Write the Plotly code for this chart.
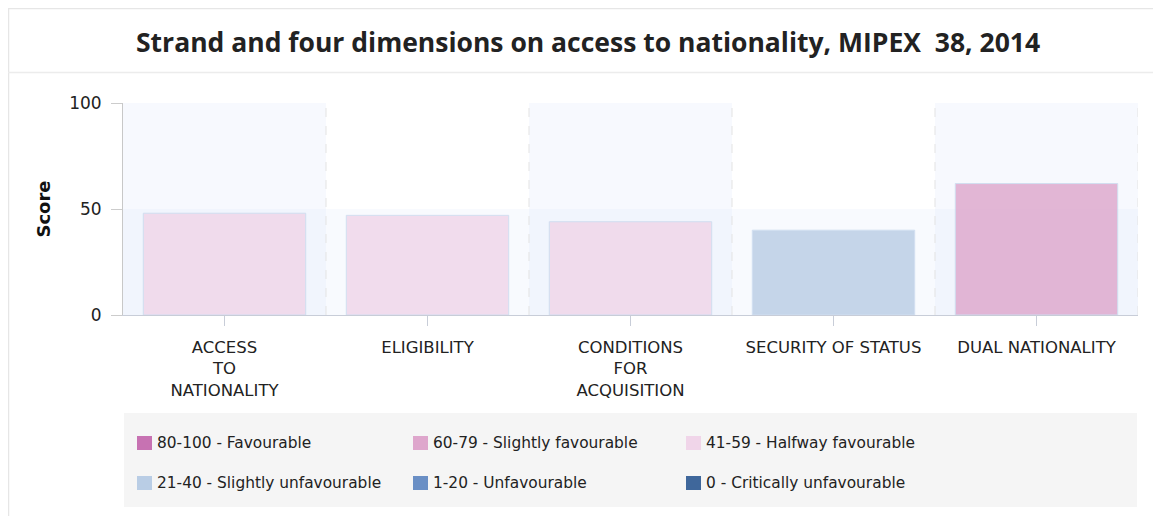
import plotly.graph_objects as go

# ---- data ----
categories = ["ACCESS<br>TO<br>NATIONALITY", "ELIGIBILITY", "CONDITIONS<br>FOR<br>ACQUISITION",
              "SECURITY OF STATUS", "DUAL NATIONALITY"]
scores = [48, 47, 44, 40, 62]

legend_labels = ["80-100 - Favourable", "60-79 - Slightly favourable", "41-59 - Halfway favourable",
                 "21-40 - Slightly unfavourable", "1-20 - Unfavourable", "0 - Critically unfavourable"]
legend_colors = ["#c772b2", "#dea6cc", "#f0d5e9", "#b9cde5", "#6a8fc5", "#3f679b"]
bin_lows = [80, 60, 41, 21, 1, 0]

title_text = "Strand and four dimensions on access to nationality, MIPEX\u00a0 38, 2014"

W, H = 1161, 516
L, R, T, B = 115, 1130, 95, 307   # plot area in figure pixels


def px(x):
    return (x - L) / (R - L)


def py(y):
    return (B - y) / (B - T)


def colour_for(v):
    for lo, c in zip(bin_lows, legend_colors):
        if v >= lo:
            return c
    return legend_colors[-1]


bar_colors = [colour_for(v) for v in scores]

fig = go.Figure()
fig.add_trace(go.Bar(
    x=categories, y=scores,
    marker=dict(color=bar_colors, opacity=0.8, line=dict(color="#c9d9ee", width=1)),
    hoverinfo="x+y", showlegend=False,
))

shapes = []
# alternating column bands
for i in range(0, len(categories), 2):
    shapes.append(dict(type="rect", xref="x", yref="y", x0=i - 0.5, x1=i + 0.5, y0=0, y1=100,
                       fillcolor="rgba(225,232,252,0.26)", line=dict(width=0), layer="below"))
# horizontal band 0-50
shapes.append(dict(type="rect", xref="x", yref="y", x0=-0.5, x1=len(categories) - 0.5, y0=0, y1=50,
                   fillcolor="rgba(225,232,252,0.22)", line=dict(width=0), layer="below"))
# dashed category separators
for i in range(len(categories)):
    shapes.append(dict(type="line", xref="x", yref="y", x0=i + 0.5, x1=i + 0.5, y0=0, y1=100,
                       line=dict(color="#e3e3e3", width=1, dash="dash"), layer="below"))
# outer frame and header separator
shapes.append(dict(type="rect", xref="paper", yref="paper", x0=px(0.5), x1=px(W - 0.5), y0=py(0.5), y1=py(H - 0.5),
                   line=dict(color="#e6e6e6", width=1.5), fillcolor="rgba(0,0,0,0)"))
shapes.append(dict(type="line", xref="paper", yref="paper", x0=px(0), x1=px(W), y0=py(64.5), y1=py(64.5),
                   line=dict(color="#ececec", width=1.5)))
# legend box
shapes.append(dict(type="rect", xref="paper", yref="paper", x0=px(116), x1=px(1129), y0=py(405), y1=py(499),
                   fillcolor="#f5f5f5", line=dict(width=0)))

annotations = [dict(text="<b>" + title_text + "</b>", xref="paper", yref="paper", x=px(580), y=py(33.5),
                    showarrow=False, xanchor="center", yanchor="middle",
                    font=dict(family="Open Sans", size=26.5, color="#222222"))]

col_x = [129, 405, 678]
row_y = [435, 475]
for k, (lab, col) in enumerate(zip(legend_labels, legend_colors)):
    cx = col_x[k % 3]
    cy = row_y[k // 3]
    shapes.append(dict(type="rect", xref="paper", yref="paper", x0=px(cx), x1=px(cx + 15),
                       y0=py(cy - 7), y1=py(cy + 7), fillcolor=col, line=dict(width=0)))
    annotations.append(dict(text=lab, xref="paper", yref="paper", x=px(cx + 18), y=py(cy),
                            showarrow=False, xanchor="left", yanchor="middle",
                            font=dict(family="DejaVu Sans", size=15.4, color="#222222")))

fig.update_layout(
    width=W, height=H,
    margin=dict(l=L, r=W - R, t=T, b=H - B),
    paper_bgcolor="white", plot_bgcolor="white",
    bargap=0.2,
    shapes=shapes, annotations=annotations,
    font=dict(family="DejaVu Sans", size=15, color="#222222"),
    xaxis=dict(type="category", range=[-0.5, len(categories) - 0.5], showgrid=False,
               showline=True, linecolor="#c8cdd8", linewidth=1,
               ticks="outside", ticklen=10, tickcolor="#c8cdd8", ticklabelstandoff=7,
               tickfont=dict(family="DejaVu Sans", size=16.5, color="#222222"), fixedrange=True),
    yaxis=dict(range=[0, 100], tickvals=[0, 50, 100], showgrid=False, zeroline=False,
               showline=True, linecolor="#c8c8c8", linewidth=1,
               ticks="outside", ticklen=11, tickcolor="#cccccc", ticklabelstandoff=6,
               tickfont=dict(family="DejaVu Sans", size=17, color="#222222"),
               title=dict(text="<b>Score</b>", font=dict(family="DejaVu Sans", size=18, color="#111111"),
                          standoff=13),
               fixedrange=True),
)

fig.write_html("out.html")
